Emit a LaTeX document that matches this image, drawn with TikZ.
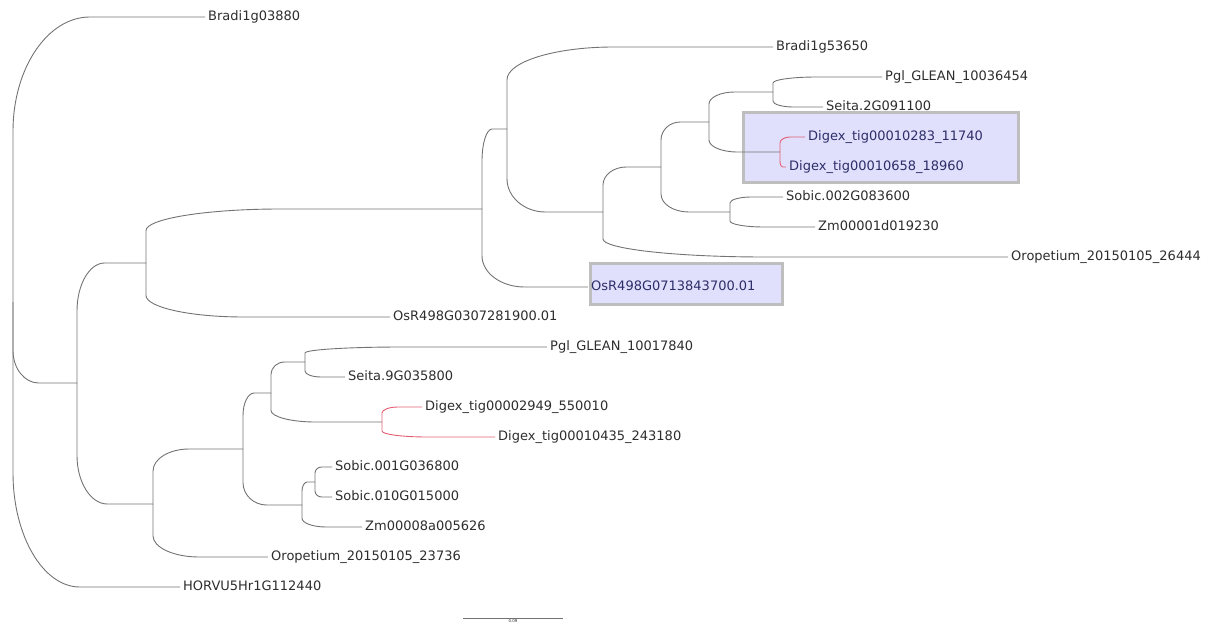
\documentclass[tikz,border=0pt]{standalone}
\usepackage{fontspec}
\setmainfont{DejaVu Sans}
\usepackage{xcolor}
\usetikzlibrary{calc}

\definecolor{treegray}{RGB}{115,115,115}
\definecolor{treered}{RGB}{228,95,115}
\definecolor{labelgray}{RGB}{45,45,45}
\definecolor{boxtext}{RGB}{45,45,105}
\definecolor{boxfill}{RGB}{224,224,252}
\definecolor{boxgray}{RGB}{190,190,190}

\tikzset{
  tree/.style={draw=treegray, line width=0.9pt},
  redtree/.style={draw=treered, line width=0.9pt},
  leaf/.style={anchor=west, inner sep=3pt, text=labelgray, text height=0.73em, text depth=0pt,
    font=\fontsize{13}{15}\selectfont},
  hileaf/.style={leaf, text=boxtext},
  hibox/.style={draw=boxgray, fill=boxfill, line width=3pt}
}

% rounded branch: parent #2 -> child #3
\newcommand{\branch}[3][tree]{%
  \draw[#1] (#2) -- ($(#2|-#3)!.4!(#2)$)
    .. controls ($(#2|-#3)!.18!(#2)$) and ($(#2|-#3)!.18!(#3)$) .. ($(#2|-#3)!.4!(#3)$) -- (#3);}

\begin{document}
\begin{tikzpicture}[x=1pt,y=-1pt]
\useasboundingbox (0,0) rectangle (1222,628);

% highlight boxes
\draw[hibox] (743,113) rectangle (1018,183);
\draw[hibox] (590,263) rectangle (782,304);

% internal nodes
\coordinate (root) at (13,302);
\coordinate (nD) at (77,383);
\coordinate (nC) at (146,263);
\coordinate (nA) at (482,209);
\coordinate (nL) at (507,129);
\coordinate (nM) at (603,212);
\coordinate (nN) at (661,167);
\coordinate (nO) at (709,122);
\coordinate (nQ) at (773,92);
\coordinate (nR) at (780,152);
\coordinate (nP) at (730,212);
\coordinate (nE) at (153,504);
\coordinate (nF) at (243,449);
\coordinate (nG) at (271,393);
\coordinate (nI) at (305,362);
\coordinate (nJ) at (382,422);
\coordinate (nH) at (302,505);
\coordinate (nK) at (315,482);

% leaves
\node[leaf] (bradiA) at (205,17) {Bradi1g03880};
\node[leaf] (bradiB) at (773,47) {Bradi1g53650};
\node[leaf] (pglA) at (882,77) {Pgl\_GLEAN\_10036454};
\node[leaf] (seitaA) at (823,107) {Seita.2G091100};
\node[hileaf] (digA) at (805,137) {Digex\_tig00010283\_11740};
\node[hileaf] (digB) at (786,167) {Digex\_tig00010658\_18960};
\node[leaf] (sobicA) at (783,197) {Sobic.002G083600};
\node[leaf] (zmA) at (815,227) {Zm00001d019230};
\node[leaf] (oroA) at (1008,257) {Oropetium\_20150105\_26444};
\node[hileaf] (osA) at (588,287) {OsR498G0713843700.01};
\node[leaf] (osB) at (390,317) {OsR498G0307281900.01};
\node[leaf] (pglB) at (547,347) {Pgl\_GLEAN\_10017840};
\node[leaf] (seitaB) at (345,377) {Seita.9G035800};
\node[leaf] (digC) at (422,407) {Digex\_tig00002949\_550010};
\node[leaf] (digD) at (495,437) {Digex\_tig00010435\_243180};
\node[leaf] (sobicB) at (332,467) {Sobic.001G036800};
\node[leaf] (sobicC) at (332,497) {Sobic.010G015000};
\node[leaf] (zmB) at (362,527) {Zm00008a005626};
\node[leaf] (oroB) at (268,557) {Oropetium\_20150105\_23736};
\node[leaf] (horvu) at (180,587) {HORVU5Hr1G112440};

% branches
\branch{root}{bradiA.west}
\branch{root}{nD}
\branch{root}{horvu.west}
\branch{nD}{nC}
\branch{nD}{nE}
\branch{nC}{nA}
\branch{nC}{osB.west}
\branch{nA}{nL}
\branch{nA}{osA.west}
\branch{nL}{bradiB.west}
\branch{nL}{nM}
\branch{nM}{nN}
\branch{nM}{oroA.west}
\branch{nN}{nO}
\branch{nN}{nP}
\branch{nO}{nQ}
\branch{nO}{nR}
\branch{nQ}{pglA.west}
\branch{nQ}{seitaA.west}
\branch[redtree]{nR}{digA.west}
\branch[redtree]{nR}{digB.west}
\branch{nP}{sobicA.west}
\branch{nP}{zmA.west}
\branch{nE}{nF}
\branch{nE}{oroB.west}
\branch{nF}{nG}
\branch{nF}{nH}
\branch{nG}{nI}
\branch{nG}{nJ}
\branch{nI}{pglB.west}
\branch{nI}{seitaB.west}
\branch[redtree]{nJ}{digC.west}
\branch[redtree]{nJ}{digD.west}
\branch{nH}{nK}
\branch{nH}{zmB.west}
\branch{nK}{sobicB.west}
\branch{nK}{sobicC.west}

% scale bar
\coordinate (sbL) at (463,618);
\coordinate (sbR) at (563,618);
\draw[tree] (sbL) -- (sbR) node[midway, below, inner sep=1.5pt, text=labelgray,
  font=\fontsize{4}{5}\selectfont] (sblabel) {0.09}; %label
\end{tikzpicture}
\end{document}
